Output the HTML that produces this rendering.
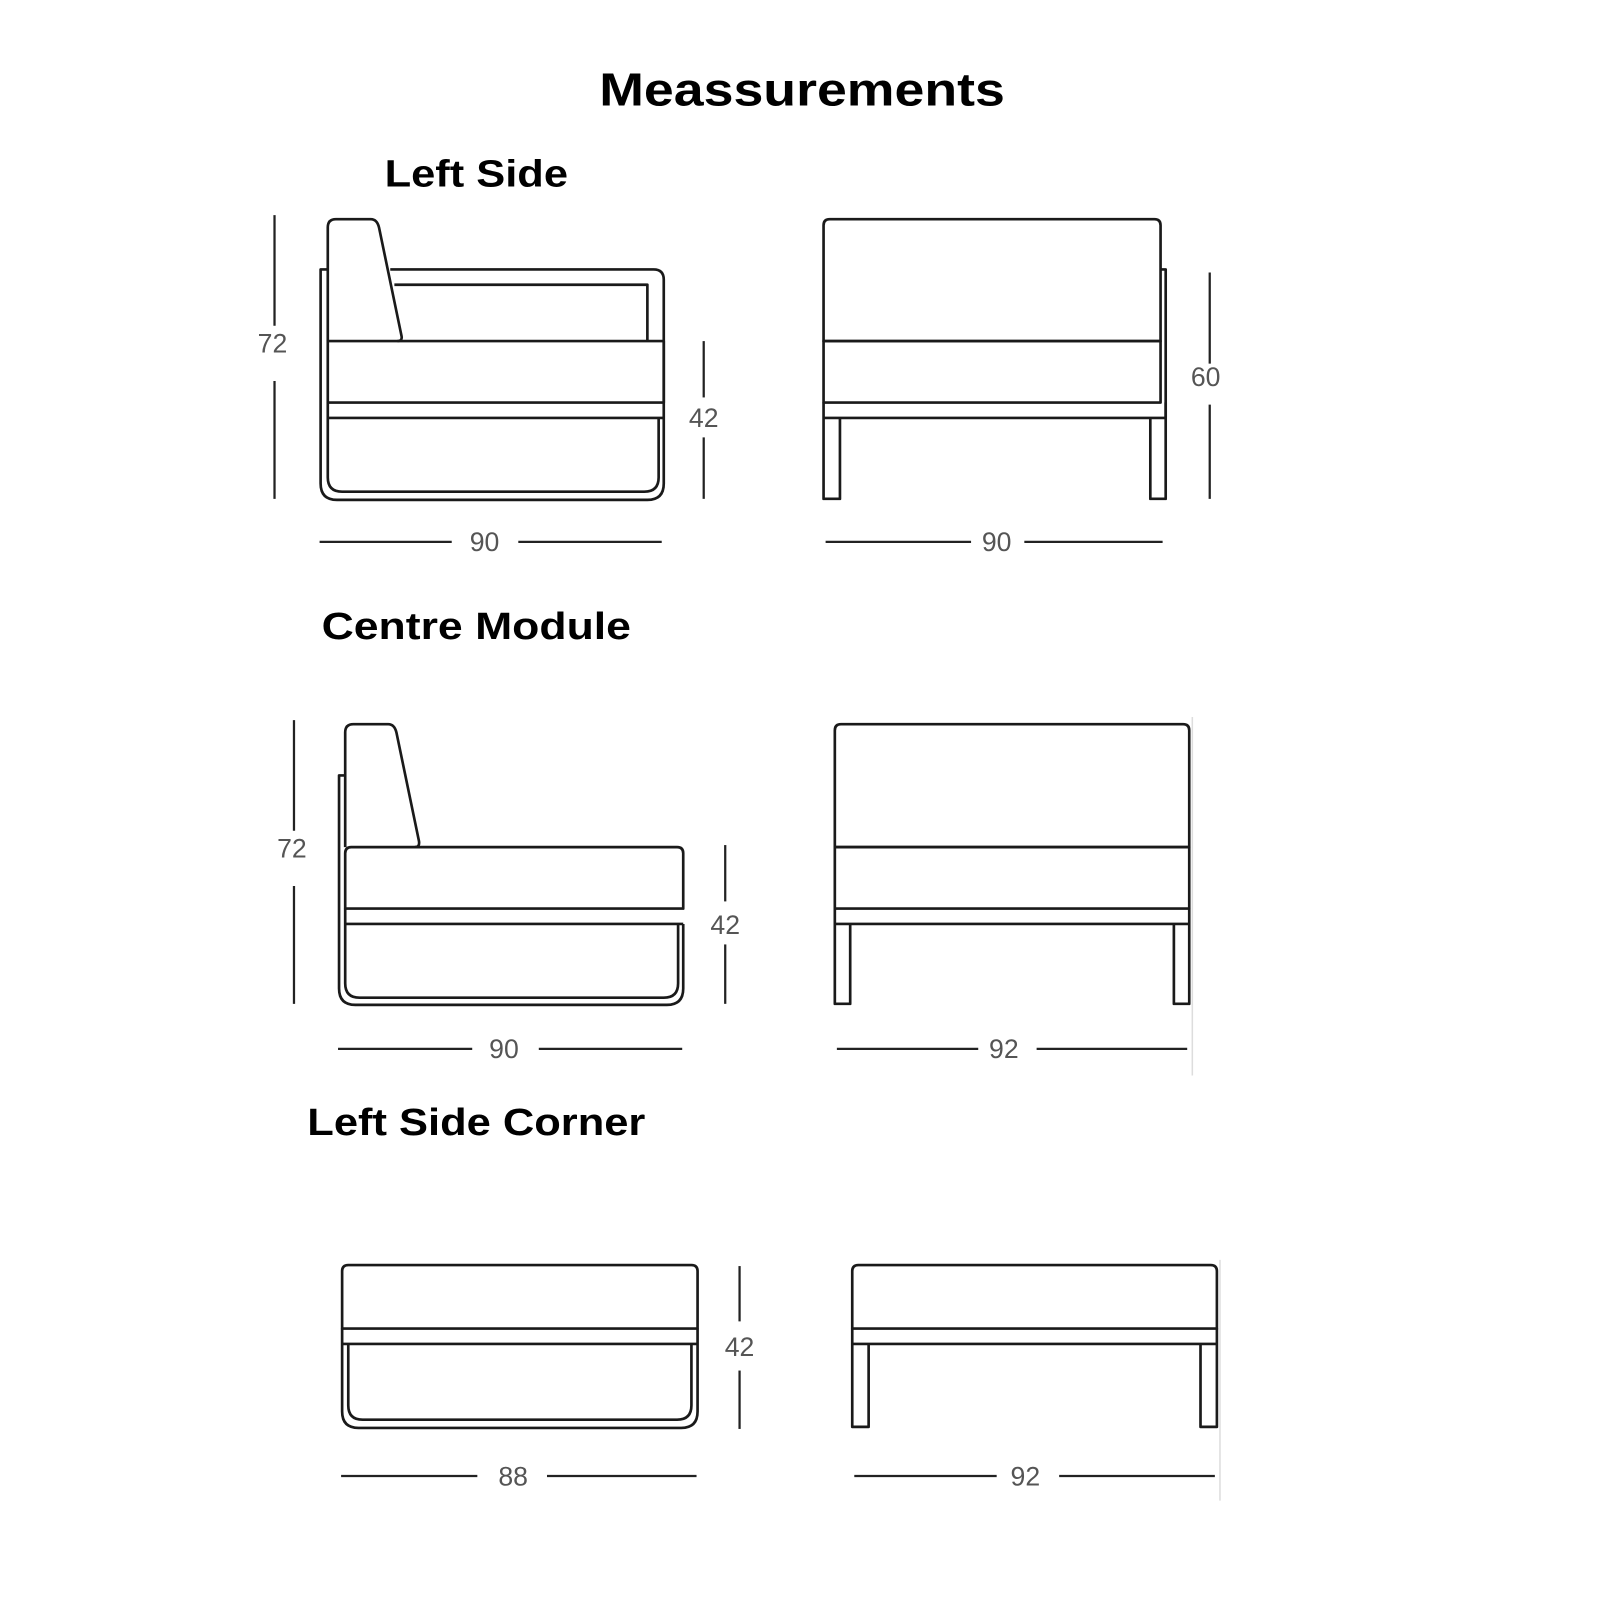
<!DOCTYPE html>
<html><head><meta charset="utf-8"><style>
html,body{margin:0;padding:0;background:#fff;}
svg{display:block;}
.t{font-family:"Liberation Sans",sans-serif;font-weight:bold;fill:#000;text-anchor:middle;}
.d{font-family:"Liberation Sans",sans-serif;fill:#555;font-size:26px;text-anchor:middle;}
.s{fill:none;stroke:#1a1a1a;stroke-width:2.6;stroke-linejoin:round;}
.m{stroke:#222;stroke-width:2.2;}
</style></head><body>
<svg width="1600" height="1600" viewBox="0 0 1562 1562" xmlns="http://www.w3.org/2000/svg">
<text class="t" x="783" y="103" font-size="45" textLength="396" lengthAdjust="spacingAndGlyphs">Meassurements</text>
<text class="t" x="465" y="182" font-size="37" textLength="179" lengthAdjust="spacingAndGlyphs">Left Side</text>
<text class="t" x="465" y="624" font-size="37" textLength="302" lengthAdjust="spacingAndGlyphs">Centre Module</text>
<text class="t" x="465" y="1108" font-size="37" textLength="330" lengthAdjust="spacingAndGlyphs">Left Side Corner</text>

<!-- Section 1 side -->
<line class="m" x1="268" y1="210" x2="268" y2="318"/><line class="m" x1="268" y1="372" x2="268" y2="487"/>
<text class="d" x="266" y="344">72</text>
<path class="s" d="M320 333 V222 Q320 214 328 214 H362 Q368 214 370 222 L392 328 Q393 333 388 333"/>
<path class="s" d="M320 263 H313 V472 Q313 488 329 488 H632 Q648 488 648 472 V273 Q648 263 638 263 H381"/>
<path class="s" d="M385 278 H632 V333"/>
<rect class="s" x="320" y="333" width="328" height="60"/>
<path class="s" d="M320 393 V466 Q320 480 334 480 H629 Q643 480 643 466 V408 M320 408 H648"/>
<line class="m" x1="687" y1="333" x2="687" y2="388"/><line class="m" x1="687" y1="427" x2="687" y2="487"/>
<text class="d" x="687" y="417">42</text>
<line class="m" x1="312" y1="529" x2="441" y2="529"/><line class="m" x1="506" y1="529" x2="646" y2="529"/>
<text class="d" x="473" y="538">90</text>

<!-- Section 1 front -->
<path class="s" d="M804 333 V220 Q804 214 810 214 H1127 Q1133 214 1133 220 V333 Z"/>
<rect class="s" x="804" y="333" width="329" height="60"/>
<path class="s" d="M1133 263 H1138 V408"/>
<path class="s" d="M804 393 V487 H820 V408 H1123 V487 H1138 V393 M804 408 H1138"/>
<line class="m" x1="1181" y1="266" x2="1181" y2="355"/><line class="m" x1="1181" y1="395" x2="1181" y2="487"/>
<text class="d" x="1177" y="377">60</text>
<line class="m" x1="806" y1="529" x2="948" y2="529"/><line class="m" x1="1000" y1="529" x2="1135" y2="529"/>
<text class="d" x="973" y="538">90</text>

<!-- Section 2 side -->
<line class="m" x1="287" y1="703" x2="287" y2="811"/><line class="m" x1="287" y1="865" x2="287" y2="980"/>
<text class="d" x="285" y="837">72</text>
<path class="s" d="M337 827 V715 Q337 707 345 707 H379 Q385 707 387 715 L409 821 Q410 827 405 827"/>
<path class="s" d="M337 757 H331 V965 Q331 981 347 981 H651 Q667 981 667 965 V902"/>
<path class="s" d="M337 833 Q337 827 343 827 H661 Q667 827 667 833 V887 H337 Z"/>
<path class="s" d="M337 887 V960 Q337 974 351 974 H648 Q662 974 662 960 V902 M337 902 H667"/>
<line class="m" x1="708" y1="825" x2="708" y2="880"/><line class="m" x1="708" y1="922" x2="708" y2="980"/>
<text class="d" x="708" y="912">42</text>
<line class="m" x1="330" y1="1024" x2="461" y2="1024"/><line class="m" x1="526" y1="1024" x2="666" y2="1024"/>
<text class="d" x="492" y="1033">90</text>

<!-- Section 2 front -->
<path class="s" d="M815 827 V713 Q815 707 821 707 H1155 Q1161 707 1161 713 V827 Z"/>
<rect class="s" x="815" y="827" width="346" height="60"/>
<path class="s" d="M815 887 V980 H830 V902 H1146 V980 H1161 V887 M815 902 H1161"/>
<line x1="1164" y1="700" x2="1164" y2="1050" stroke="#ddd" stroke-width="1.5"/>
<line class="m" x1="817" y1="1024" x2="955" y2="1024"/><line class="m" x1="1012" y1="1024" x2="1159" y2="1024"/>
<text class="d" x="980" y="1033">92</text>

<!-- Section 3 side -->
<path class="s" d="M334 1297 V1241 Q334 1235 340 1235 H675 Q681 1235 681 1241 V1297 Z"/>
<path class="s" d="M334 1297 V1378 Q334 1394 350 1394 H665 Q681 1394 681 1378 V1297 M334 1312 H681"/>
<path class="s" d="M340 1312 V1372 Q340 1386 354 1386 H661 Q675 1386 675 1372 V1312"/>
<line class="m" x1="722" y1="1236" x2="722" y2="1290"/><line class="m" x1="722" y1="1338" x2="722" y2="1395"/>
<text class="d" x="722" y="1324">42</text>
<line class="m" x1="333" y1="1441" x2="466" y2="1441"/><line class="m" x1="534" y1="1441" x2="680" y2="1441"/>
<text class="d" x="501" y="1450">88</text>

<!-- Section 3 front -->
<path class="s" d="M832 1297 V1241 Q832 1235 838 1235 H1182 Q1188 1235 1188 1241 V1297 Z"/>
<path class="s" d="M832 1297 V1393 H848 V1312 H1172 V1393 H1188 V1297 M832 1312 H1188"/>
<line x1="1191" y1="1230" x2="1191" y2="1465" stroke="#ddd" stroke-width="1.5"/>
<line class="m" x1="834" y1="1441" x2="973" y2="1441"/><line class="m" x1="1034" y1="1441" x2="1186" y2="1441"/>
<text class="d" x="1001" y="1450">92</text>
</svg>
</body></html>
